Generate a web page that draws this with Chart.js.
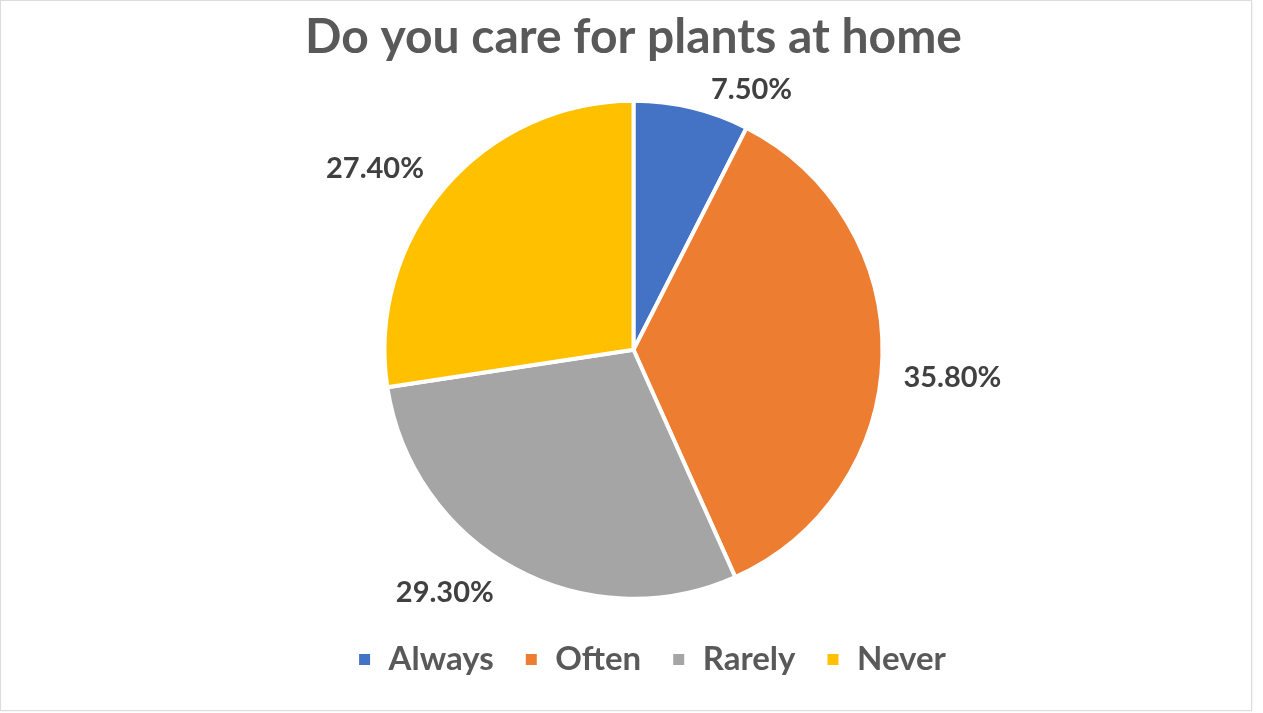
<!DOCTYPE html>
<html>
<head>
<meta charset="utf-8">
<title>Do you care for plants at home</title>
<script src="https://cdn.jsdelivr.net/npm/chart.js@4.4.1/dist/chart.umd.min.js"></script>
<style>
  html, body { margin: 0; padding: 0; background: #fff; }
  #frame {
    position: absolute; left: 0; top: 0;
    width: 1250px; height: 709px;
    border: 1px solid #dcdcdc;
    box-shadow: 0 0 2px #e6e6e6;
  }
  #wrap { position: absolute; left: 0; top: 0; width: 1263px; height: 713px; }
</style>
</head>
<body>
<div id="frame"></div>
<div id="wrap"><canvas id="pie" width="1263" height="713"></canvas></div>
<script>
const answers = ['Always', 'Often', 'Rarely', 'Never'];
const shares = [7.5, 35.8, 29.3, 27.4];
const sliceColors = ['#4472C4', '#ED7D31', '#A5A5A5', '#FFC000'];

const FONT = 'Lato, "Open Sans", sans-serif';

// percent labels sit outside each slice, pushed off the mid angle a little
const outsideLabels = {
  id: 'outsideLabels',
  afterDatasetsDraw(chart, args, opts) {
    const ctx = chart.ctx;
    const meta = chart.getDatasetMeta(0);
    ctx.save();
    ctx.font = 'bold ' + opts.size + 'px ' + FONT;
    ctx.fillStyle = opts.color;
    ctx.textAlign = 'center';
    ctx.textBaseline = 'middle';
    meta.data.forEach((arc, i) => {
      const p = arc.getProps(['x', 'y', 'startAngle', 'endAngle', 'outerRadius'], true);
      const mid = (p.startAngle + p.endAngle) / 2;
      const r = p.outerRadius + opts.gap;
      const nudge = opts.nudge[i] || [0, 0];
      const x = p.x + Math.cos(mid) * r + nudge[0];
      const y = p.y + Math.sin(mid) * r + nudge[1];
      ctx.fillText(shares[i].toFixed(2) + '%', x, y);
    });
    ctx.restore();
  }
};

// slide the legend row a bit to the right of centre
const legendShift = {
  id: 'legendShift',
  afterLayout(chart, args, opts) {
    const lg = chart.legend;
    if (!lg) return;
    lg.left += opts.dx;
    lg.right += opts.dx;
  }
};

new Chart(document.getElementById('pie'), {
  type: 'pie',
  data: {
    labels: answers,
    datasets: [{
      data: shares,
      backgroundColor: sliceColors,
      borderColor: '#ffffff',
      borderWidth: 4,
      radius: 249
    }]
  },
  options: {
    responsive: false,
    animation: false,
    layout: { padding: { left: 4, right: 0, top: 0, bottom: 27 } },
    plugins: {
      title: {
        display: true,
        text: 'Do you care for plants at home',
        color: '#595959',
        font: { family: FONT, size: 48, weight: 'bold' },
        padding: { top: 9, bottom: 20 }
      },
      legend: {
        position: 'bottom',
        labels: {
          color: '#595959',
          font: { family: FONT, size: 33, weight: 'bold' },
          boxWidth: 15,
          boxHeight: 15,
          padding: 30
        }
      },
      legendShift: { dx: 18 },
      tooltip: { enabled: false },
      outsideLabels: {
        size: 29,
        color: '#404040',
        gap: 51,
        nudge: [[48, 32], [19, 20], [-45, -21], [-31, 14]]
      }
    }
  },
  plugins: [outsideLabels, legendShift]
});
</script>
</body>
</html>
